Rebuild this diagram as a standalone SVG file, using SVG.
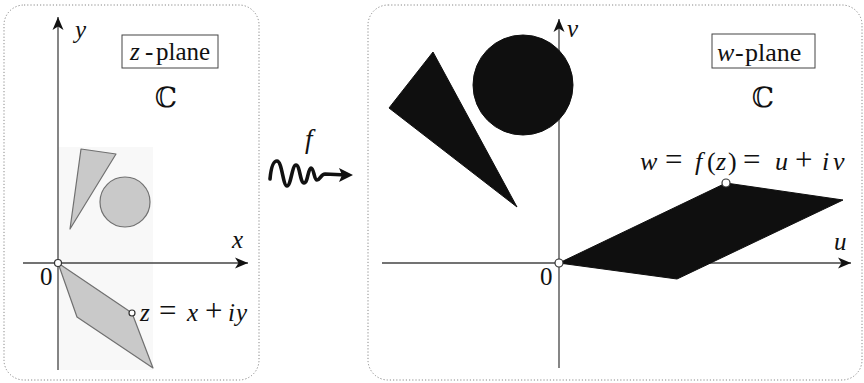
<svg xmlns="http://www.w3.org/2000/svg" width="864" height="383" viewBox="0 0 864 383">
<style>
.panel{fill:#fff;stroke:#888;stroke-width:1;stroke-dasharray:1.2 2}
.axis{stroke:#444;stroke-width:1.3;fill:none}
text{font-family:"Liberation Serif","DejaVu Serif",serif;fill:#111}
.it{font-style:italic}
.op{font-size:31px}
.bb{font-family:"DejaVu Serif","DejaVu Sans",serif}
.lab{fill:#fff;stroke:#444;stroke-width:1}
.light{fill:#c9c9c9;stroke:#707070;stroke-width:1.2;stroke-linejoin:round}
.dark{fill:#0f0f0f;stroke:#0f0f0f;stroke-width:1}
.pt{fill:#fff;stroke:#333;stroke-width:1.2}
</style>
<defs>
<marker id="ah" markerUnits="userSpaceOnUse" markerWidth="14" markerHeight="12" refX="13" refY="6" orient="auto">
<path d="M0,0.5 L13,6 L0,11.5 L3.5,6 z" fill="#111"/>
</marker>
</defs>
<g id="z-panel">
<rect class="panel" x="4" y="5" width="255" height="375" rx="20"/>
<rect x="58" y="147" width="95" height="223" fill="#f8f8f8"/>
</g>
<g id="w-panel">
<rect class="panel" x="368" y="5" width="494" height="375" rx="20"/>
</g>
<g id="connectors">
<line class="axis" x1="23" y1="263" x2="248" y2="263" marker-end="url(#ah)"/>
<line class="axis" x1="58" y1="370" x2="58" y2="17" marker-end="url(#ah)"/>
<line class="axis" x1="382" y1="263" x2="851" y2="263" marker-end="url(#ah)"/>
<line class="axis" x1="559" y1="368" x2="559" y2="19" marker-end="url(#ah)"/>
</g>
<g id="z-shapes">
<polygon class="light" points="81,149 116,154 70,229"/>
<circle class="light" cx="125" cy="202" r="25"/>
<polygon class="light" points="58,263 132,313 153,368 77,317"/>
</g>
<g id="w-shapes">
<polygon class="dark" points="433,52 389,108 517,207"/>
<circle class="dark" cx="523" cy="85" r="50"/>
<polygon class="dark" points="559,263 726,183 843,200 677,279"/>
</g>
<g id="z-labels">
<text class="it" x="75" y="38" font-size="25">y</text>
<text class="it" x="232" y="248" font-size="25">x</text>
<text x="40" y="285" font-size="25">0</text>
<circle class="pt" cx="58" cy="263" r="3.5"/>
<circle class="pt" cx="132" cy="313" r="3"/>
<text font-size="25" y="321"><tspan class="it" x="140">z</tspan><tspan class="op" x="159">=</tspan><tspan class="it" x="187">x</tspan><tspan class="op" x="205">+</tspan><tspan class="it" x="228">i</tspan><tspan class="it" x="236">y</tspan></text>
</g>
<g id="z-title">
<rect class="lab" x="122" y="35" width="96" height="33"/>
<text font-size="25" y="60"><tspan class="it" x="130">z</tspan><tspan x="145">-</tspan><tspan x="156">plane</tspan></text>
<text class="bb" x="166" y="107" font-size="28" text-anchor="middle">ℂ</text>
</g>
<g id="w-labels">
<text class="it" x="567" y="37" font-size="25">v</text>
<text class="it" x="834" y="250" font-size="25">u</text>
<text x="540" y="285" font-size="25">0</text>
<circle class="pt" cx="559" cy="263" r="4"/>
<circle class="pt" cx="726" cy="183" r="4"/>
<text font-size="26" y="170"><tspan class="it" x="640">w</tspan><tspan class="op" x="665">=</tspan><tspan class="it" x="695">f</tspan><tspan x="707">(</tspan><tspan class="it" x="716">z</tspan><tspan x="728">)</tspan><tspan class="op" x="743">=</tspan><tspan class="it" x="775">u</tspan><tspan class="op" x="795">+</tspan><tspan class="it" x="822">i</tspan><tspan class="it" x="833">v</tspan></text>
</g>
<g id="w-title">
<rect class="lab" x="712" y="34" width="103" height="34"/>
<text font-size="26" y="61"><tspan class="it" x="717">w</tspan><tspan x="735">-</tspan><tspan x="745">plane</tspan></text>
<text class="bb" x="763" y="107" font-size="28" text-anchor="middle">ℂ</text>
</g>
<g id="map-f">
<text class="it" x="305" y="148" font-size="27">f</text>
<path d="M270,179 C271,168 273,161 277,161 C282,161 283,186 287,186 C291,186 292,165 296,165 C300,165 300,183 304,183 C308,183 308,168 311,168 C314,168 314,180 317,180 C320,180 321,174 325,174 L346,175" fill="none" stroke="#111" stroke-width="3.6" stroke-linecap="round" stroke-linejoin="round"/>
<path d="M353,175 L339,168 L342,175 L339,182 z" fill="#111"/>
</g>
</svg>
